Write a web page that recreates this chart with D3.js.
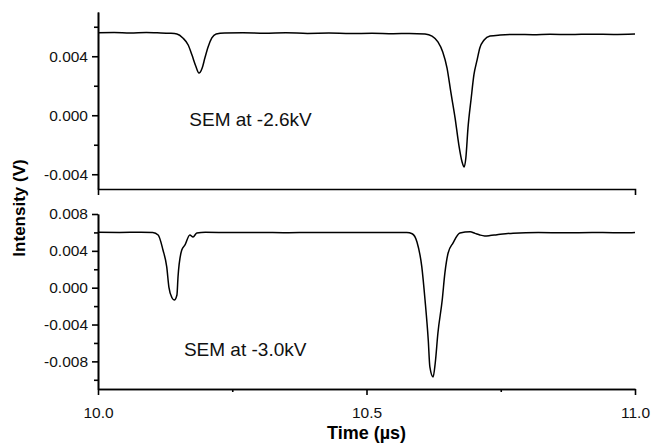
<!DOCTYPE html>
<html>
<head>
<meta charset="utf-8">
<script src="https://cdn.jsdelivr.net/npm/d3@7"></script>
<style>
  body { margin: 0; background: #fff; }
  svg { font-family: "Liberation Sans", Arial, sans-serif; }
</style>
</head>
<body>
<div></div>
<script>
// trace recorded with SEM at -2.6kV (top panel)
const topTime = [10.000, 10.030, 10.060, 10.090, 10.110, 10.134, 10.147, 10.158, 10.168, 10.175,
  10.182, 10.188, 10.194, 10.199, 10.205, 10.212, 10.220, 10.236, 10.270, 10.310, 10.350, 10.390,
  10.430, 10.470, 10.510, 10.550, 10.580, 10.609, 10.622, 10.633, 10.642, 10.650, 10.657, 10.665,
  10.672, 10.678, 10.682, 10.685, 10.689, 10.695, 10.700, 10.706, 10.711, 10.719, 10.730, 10.749,
  10.780, 10.810, 10.842, 10.880, 10.920, 10.960, 11.000];
const topValue = [0.00560, 0.00561, 0.00558, 0.00561, 0.00559, 0.00556, 0.00551, 0.00524, 0.00476, 0.00408,
  0.00334, 0.00286, 0.00320, 0.00388, 0.00463, 0.00524, 0.00551, 0.00558, 0.00560, 0.00556, 0.00559, 0.00555,
  0.00557, 0.00554, 0.00556, 0.00553, 0.00555, 0.00551, 0.00537, 0.00497, 0.00429, 0.00320, 0.00158, -0.00019,
  -0.00202, -0.00317, -0.00351, -0.00290, -0.00086, 0.00117, 0.00273, 0.00375, 0.00456, 0.00510, 0.00537, 0.00544,
  0.00548, 0.00546, 0.00549, 0.00547, 0.00550, 0.00548, 0.00551];

// trace recorded with SEM at -3.0kV (bottom panel)
const botTime = [10.000, 10.040, 10.080, 10.102, 10.112, 10.121, 10.128, 10.132, 10.138, 10.142,
  10.147, 10.149, 10.156, 10.162, 10.171, 10.177, 10.184, 10.200, 10.250, 10.300, 10.350, 10.400,
  10.450, 10.500, 10.550, 10.575, 10.585, 10.594, 10.603, 10.609, 10.615, 10.618, 10.624, 10.628, 10.633,
  10.641, 10.646, 10.652, 10.661, 10.674, 10.693, 10.702, 10.711, 10.720, 10.730, 10.743, 10.773, 10.820, 10.870,
  10.920, 10.960, 11.000];
const botValue = [0.00601, 0.00600, 0.00602, 0.00598, 0.00572, 0.00409, 0.00225, 0.00007, -0.00112, -0.00134,
  -0.00079, 0.00116, 0.00409, 0.00464, 0.00572, 0.00550, 0.00594, 0.00601, 0.00598, 0.00600, 0.00597, 0.00600,
  0.00598, 0.00600, 0.00599, 0.00598, 0.00585, 0.00496, 0.00225, -0.00134, -0.00568, -0.00861, -0.00970, -0.00818, -0.00492,
  -0.00134, 0.00160, 0.00377, 0.00485, 0.00594, 0.00606, 0.00590, 0.00572, 0.00562, 0.00566, 0.00575, 0.00592, 0.00598, 0.00596,
  0.00599, 0.00597, 0.00598];

const xTicks = [10.0, 10.5, 11.0];
const xMinor = [10.25, 10.75];
const topTicks = [0.004, 0.000, -0.004];
const topMinor = [0.006, 0.002, -0.002];
const botTicks = [0.008, 0.004, 0.000, -0.004, -0.008];
const botMinor = [0.006, 0.002, -0.002, -0.006, -0.010];
const topLabel = "SEM at -2.6kV";
const botLabel = "SEM at -3.0kV";

const svg = d3.select("div").append("svg").attr("width", 653).attr("height", 446);

const x = d3.scaleLinear().domain([10, 11]).range([98, 635]);
const yTop = d3.scaleLinear().domain([-0.005, 0.007]).range([189, 12]);
const yBot = d3.scaleLinear().domain([-0.011, 0.008]).range([389, 214]);

const fmt = d => d.toFixed(3);

function styleAxis(g) {
  g.selectAll("path, line").attr("stroke", "#000").attr("stroke-width", 1.6);
  g.selectAll("text").attr("font-size", 15.5).attr("fill", "#111").attr("font-family", "Liberation Sans, Arial, sans-serif");
}

function panel(y, ticks, minor, times, values) {
  svg.append("g").attr("transform", "translate(98,0)")
    .call(d3.axisLeft(y).tickValues(ticks).tickFormat(fmt).tickSize(6).tickSizeOuter(0).tickPadding(4))
    .call(styleAxis);
  svg.append("g").attr("transform", "translate(98,0)")
    .call(d3.axisLeft(y).tickValues(minor).tickFormat("").tickSize(4).tickSizeOuter(0))
    .call(styleAxis);

  const line = d3.line().x((d, i) => x(times[i])).y(d => y(d)).curve(d3.curveMonotoneX);
  svg.append("path").datum(values)
    .attr("d", line)
    .attr("fill", "none")
    .attr("stroke", "#000")
    .attr("stroke-width", 1.5)
    .attr("stroke-linejoin", "round");
}

panel(yTop, topTicks, topMinor, topTime, topValue);
panel(yBot, botTicks, botMinor, botTime, botValue);

// separator between panels: bare axis line with end ticks
svg.append("g").attr("transform", "translate(0,189)")
  .call(d3.axisBottom(x).tickValues([]).tickSizeOuter(6))
  .call(styleAxis);

// bottom x axis
svg.append("g").attr("transform", "translate(0,389)")
  .call(d3.axisBottom(x).tickValues(xTicks).tickFormat(d3.format(".1f")).tickSize(6).tickSizeOuter(0).tickPadding(12))
  .call(styleAxis);
svg.append("g").attr("transform", "translate(0,389)")
  .call(d3.axisBottom(x).tickValues(xMinor).tickFormat("").tickSize(3).tickSizeOuter(0))
  .call(styleAxis);

svg.append("text").text(topLabel)
  .attr("x", x(10.17)).attr("y", yTop(-0.0007))
  .attr("font-size", 19).attr("fill", "#111");
svg.append("text").text(botLabel)
  .attr("x", x(10.16)).attr("y", yBot(-0.0074))
  .attr("font-size", 19).attr("fill", "#111");

svg.append("text").text("Time (µs)")
  .attr("x", x(10.5)).attr("y", 439)
  .attr("text-anchor", "middle")
  .attr("font-weight", "bold").attr("font-size", 18);

svg.append("text").text("Intensity (V)")
  .attr("transform", "translate(25,208) rotate(-90)")
  .attr("text-anchor", "middle")
  .attr("font-weight", "bold").attr("font-size", 17);
</script>
</body>
</html>
